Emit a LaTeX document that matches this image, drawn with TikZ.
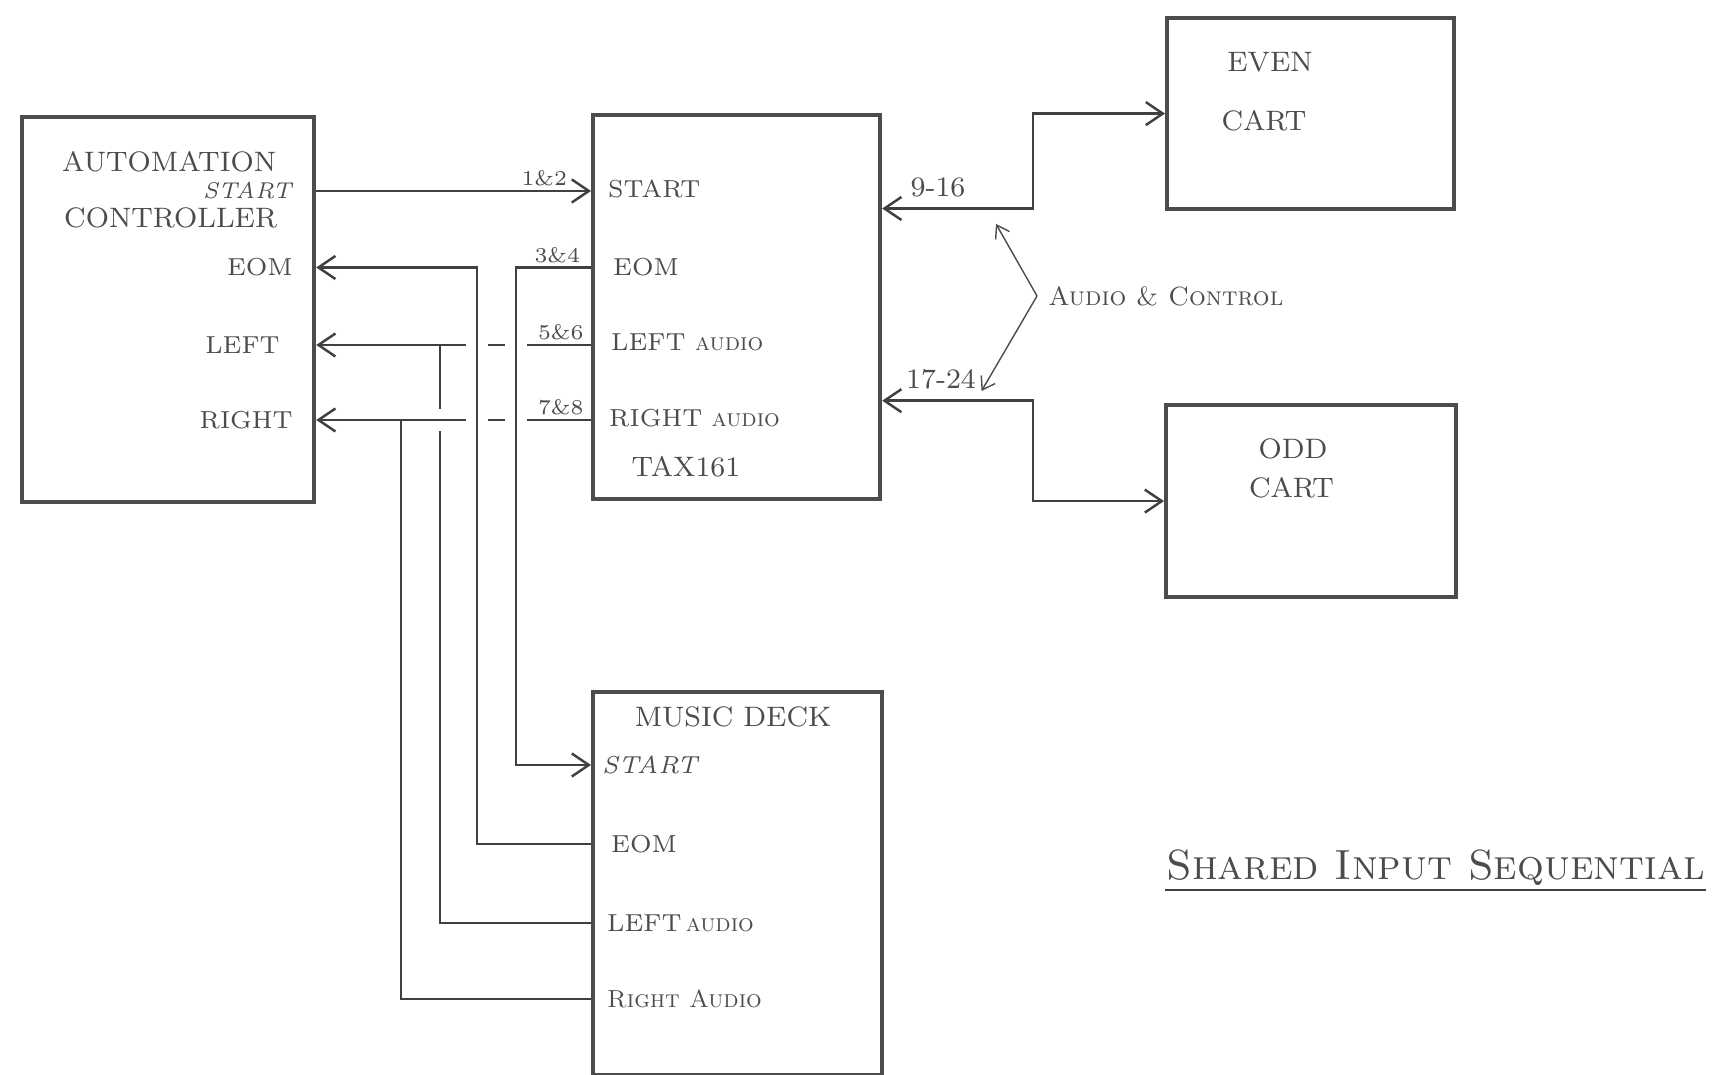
\documentclass[tikz,border=0pt]{standalone}
\usepackage{tikz}
\usetikzlibrary{arrows.meta}

\begin{document}
\begin{tikzpicture}[every node/.style={font=\fontsize{7}{8}\selectfont, text=black!70, inner sep=1pt},
	>={Straight Barb[length=1.7mm, width=2.3mm]},
	blk/.style={draw=black!70, line width=1.2pt, anchor=north west, inner sep=0pt},
	ttl/.style={font=\fontsize{8}{9}\selectfont},
	num/.style={font=\fontsize{6}{7}\selectfont},
	grp/.style={font=\fontsize{8}{9}\selectfont},
	wire/.style={draw=black!75, line width=0.7pt},
	hop/.style={preaction={draw=white, line width=6pt, -, shorten <=2pt, shorten >=2pt}},
	note/.style={draw=black!70, line width=0.4pt, -{Straight Barb[length=1.2mm, width=1.6mm]}}]
	\fill[white] (0,0) rectangle (17.12,-10.75);
	\useasboundingbox (0,0) rectangle (17.12,-10.75);

	% boxes
	\node[blk, minimum width=2.92cm, minimum height=3.85cm] (ac) at (0.20,-1.15) {};
	\node[blk, minimum width=2.87cm, minimum height=3.84cm] (tax) at (5.91,-1.13) {};
	\node[blk, minimum width=2.87cm, minimum height=1.91cm] (even) at (11.65,-0.16) {};
	\node[blk, minimum width=2.90cm, minimum height=1.92cm] (odd) at (11.64,-4.03) {};
	\node[blk, minimum width=2.89cm, minimum height=3.83cm] (md) at (5.91,-6.90) {};

	\node[ttl, anchor=west] (acname1) at (0.58,-1.62) {AUTOMATION};
	\node[ttl, anchor=west] (acname2) at (0.60,-2.18) {CONTROLLER};
	\node[ttl] (taxname) at (6.86,-4.67) {TAX161};
	\node[ttl] (evname1) at (12.70,-0.62) {EVEN};
	\node[ttl] (evname2) at (12.64,-1.21) {CART};
	\node[ttl] (odname1) at (12.93,-4.49) {ODD};
	\node[ttl] (odname2) at (12.915,-4.88) {CART};
	\node[ttl] (mdname) at (7.33,-7.17) {MUSIC DECK};

	% pins
	\node[anchor=east, font=\fontsize{6.5}{7}\selectfont\itshape] (acs) at (2.96,-1.91) {START};
	\node[anchor=east] (ace) at (2.97,-2.675) {EOM};
	\node[anchor=east] (acl) at (2.84,-3.45) {LEFT};
	\node[anchor=east] (acr) at (2.97,-4.20) {RIGHT};

	\node[anchor=west] (tS) at (6.04,-1.89) {START};
	\node[anchor=west] (tE) at (6.09,-2.675) {EOM};
	\node[anchor=west] (tL) at (6.07,-3.42) {LEFT \textsc{audio}};
	\node[anchor=west] (tR) at (6.05,-4.18) {RIGHT \textsc{audio}};

	\node[anchor=west, font=\fontsize{7}{8}\selectfont\itshape] (mS) at (5.98,-7.65) {START};
	\node[anchor=west] (mE) at (6.07,-8.44) {EOM};
	\node[anchor=west] (mL) at (6.03,-9.23) {LEFT\,\textsc{audio}};
	\node[anchor=west] (mR) at (6.03,-9.99) {\textsc{Right Audio}};

	\coordinate (busR) at (4.01,0);
	\coordinate (busL) at (4.40,0);
	\coordinate (busE) at (4.77,0);
	\coordinate (busS) at (5.16,0);

	% controller to tax
	\draw[wire, ->] (acs -| ac.east) -- node[num, pos=.83, above] (n12) {1\&2} (acs -| tax.west);
	% audio back to the controller
	\draw[wire, ->] (acl -| tax.west) -- node[num, pos=.11, above] (n56) {5\&6} (acl -| ac.east);
	\draw[wire] (mL -| md.west) -- (mL -| busL) -- (acl -| busL);
	\draw[wire, hop, ->] (acr -| tax.west) -- node[num, pos=.11, above] (n78) {7\&8} (acr -| ac.east);
	\draw[wire] (mR -| md.west) -- (mR -| busR) -- (acr -| busR);
	% end of message
	\draw[wire, hop, ->] (mE -| md.west) -- (mE -| busE) -- (ace -| busE) -- (ace -| ac.east);
	\draw[wire, hop, ->] (ace -| tax.west) -- node[num, pos=.45, above] (n34) {3\&4} (ace -| busS) -- (mS -| busS) -- (mS -| md.west);

	% carts
	\coordinate (j916) at (10.33,-2.085);
	\coordinate (j1724) at (10.33,-4.007);
	\draw[wire, <->] (j916 -| tax.east) -- node[grp, pos=.37, above=2pt] (n916) {9-16} (j916) |- (even.west);
	\draw[wire, <->] (j1724 -| tax.east) -- node[grp, pos=.39, above=2pt] (n1724) {17-24} (j1724) |- (odd.west);

	\node[anchor=west, inner xsep=3pt, font=\fontsize{7.5}{9}\selectfont] (acnote) at (10.37,-2.96) {\textsc{Audio \& Control}};
	\coordinate (tipA) at (9.96,-2.24);
	\coordinate (tipB) at (9.815,-3.91);
	\draw[note] (acnote.west) -- (tipA);
	\draw[note] (acnote.west) -- (tipB);

	\node[font=\fontsize{12}{14}\selectfont, anchor=base, minimum width=5.39cm, inner sep=0pt] (sheet) at (14.355,-8.80) {\textsc{Shared Input Sequential}};
	\draw[wire] ([yshift=-1mm]sheet.base west) -- ([yshift=-1mm]sheet.base east);
\end{tikzpicture}
\end{document}
